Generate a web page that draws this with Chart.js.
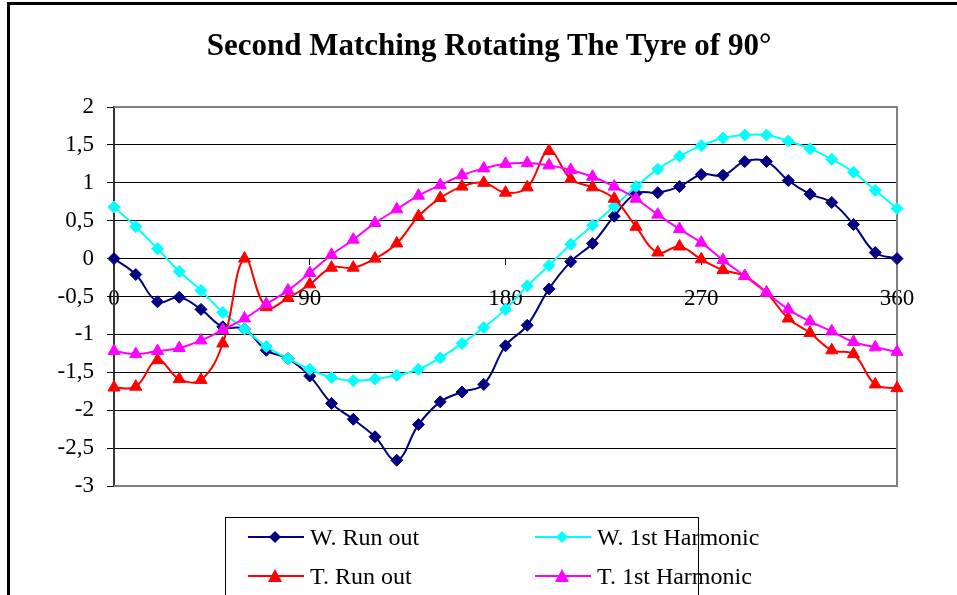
<!DOCTYPE html>
<html><head><meta charset="utf-8">
<script src="https://cdn.jsdelivr.net/npm/chart.js@4"></script>
<style>
body{margin:0;background:#fff;}
#wrap{position:relative;width:957px;height:595px;overflow:hidden;background:#fff;font-family:"Liberation Serif","Times New Roman",serif;color:#000;}
#frame{position:absolute;left:7px;top:2px;width:1000px;height:1000px;border-left:3px solid #000;border-top:3px solid #000;}
#title{position:absolute;left:0;width:978px;top:25px;text-align:center;font-weight:bold;font-size:31px;line-height:40px;}
#legend{position:absolute;left:225px;top:517px;width:472px;height:120px;border:1px solid #000;background:#fff;}
.item{position:absolute;height:30px;display:flex;align-items:center;font-size:24px;white-space:nowrap;}
.item svg{margin-right:6px;}
canvas{position:absolute;left:0;top:0;}
</style></head>
<body>
<div id="wrap">
<canvas id="c" width="957" height="595"></canvas>
<div id="frame"></div>
<div id="title">Second Matching Rotating The Tyre of 90°</div>
<div id="legend"></div>
</div>
<script>
const angles = [0,10,20,30,40,50,60,70,80,90,100,110,120,130,140,150,160,170,180,190,200,210,220,230,240,250,260,270,280,290,300,310,320,330,340,350,360];
const seriesNames = ["W. Run out","W. 1st Harmonic","T. Run out","T. 1st Harmonic"];
const wRunOut = [0,-0.21,-0.57,-0.51,-0.67,-0.90,-0.93,-1.21,-1.32,-1.55,-1.91,-2.12,-2.35,-2.66,-2.19,-1.89,-1.76,-1.66,-1.15,-0.88,-0.40,-0.04,0.20,0.56,0.86,0.87,0.95,1.11,1.10,1.28,1.28,1.03,0.85,0.74,0.45,0.08,0.0];
const wHarmonic = [0.68,0.42,0.13,-0.17,-0.42,-0.71,-0.93,-1.16,-1.32,-1.46,-1.57,-1.61,-1.59,-1.54,-1.46,-1.31,-1.12,-0.91,-0.67,-0.36,-0.09,0.19,0.44,0.69,0.95,1.18,1.35,1.49,1.59,1.63,1.63,1.55,1.45,1.31,1.14,0.90,0.66];
const tRunOut = [-1.70,-1.69,-1.34,-1.59,-1.60,-1.12,0.0,-0.64,-0.52,-0.34,-0.12,-0.12,0.0,0.20,0.56,0.80,0.95,1.00,0.87,0.94,1.42,1.05,0.94,0.79,0.42,0.08,0.16,-0.01,-0.15,-0.23,-0.45,-0.79,-0.98,-1.21,-1.26,-1.66,-1.71];
const tHarmonic = [-1.22,-1.26,-1.22,-1.18,-1.08,-0.94,-0.79,-0.60,-0.42,-0.19,0.05,0.25,0.47,0.65,0.83,0.97,1.10,1.19,1.25,1.26,1.23,1.17,1.08,0.95,0.79,0.58,0.39,0.21,-0.02,-0.23,-0.45,-0.67,-0.83,-0.96,-1.10,-1.17,-1.23];
const xTickValues = [0,90,180,270,360];
const yTickValues = [-3,-2.5,-2,-1.5,-1,-0.5,0,0.5,1,1.5,2];

const colors = ["#000080","#00FFFF","#FF0000","#FF00FF"];
const styles = ["rectRot","rectRot","triangle","triangle"];
const allValues = [wRunOut,wHarmonic,tRunOut,tHarmonic];
const toXY = vals => vals.map((v,i)=>({x:angles[i],y:v}));

const datasets = allValues.map((vals,i)=>({
  label: seriesNames[i],
  data: toXY(vals),
  borderColor: colors[i],
  backgroundColor: colors[i],
  pointBackgroundColor: colors[i],
  pointBorderColor: colors[i],
  pointStyle: styles[i],
  pointRadius: styles[i]==="triangle"?7:6,
  pointBorderWidth: 1,
  borderWidth: 2,
  tension: 0.4,
  clip: false,
  order: 4-i
}));

const plotBorder = {
  id:'plotBorder',
  beforeDatasetsDraw(chart){
    const {ctx, chartArea:a} = chart;
    ctx.save();
    ctx.strokeStyle = '#808080';
    ctx.lineWidth = 2;
    ctx.beginPath();
    ctx.moveTo(a.left, a.top);
    ctx.lineTo(a.right, a.top);
    ctx.lineTo(a.right, a.bottom);
    ctx.lineTo(a.left, a.bottom);
    ctx.stroke();
    ctx.restore();
  }
};

const font = {family:'"Liberation Serif","Times New Roman",serif', size:23};

new Chart(document.getElementById('c'), {
  type:'line',
  data:{datasets},
  options:{
    responsive:false,
    animation:false,
    events:[],
    layout:{padding:{left:8, top:107, right:60, bottom:109}},
    plugins:{legend:{display:false}, title:{display:false}, tooltip:{enabled:false}},
    scales:{
      x:{
        type:'linear', min:0, max:360,
        position:{y:0},
        afterBuildTicks(s){ s.ticks = xTickValues.map(v=>({value:v})); },
        ticks:{autoSkip:false, maxRotation:0, color:'#000', font, padding:21},
        grid:{drawOnChartArea:false, drawTicks:true, tickLength:6, tickColor:'#000', tickWidth:1},
        border:{display:true, color:'#000', width:1}
      },
      y:{
        type:'linear', min:-3, max:2,
        afterBuildTicks(s){ s.ticks = yTickValues.map(v=>({value:v})); },
        afterFit(s){ s.width = 106; },
        ticks:{color:'#000', font, padding:13, callback:v=>String(v).replace('.',',')},
        grid:{color:'#000', lineWidth:1, tickLength:7, tickColor:'#000'},
        border:{display:true, color:'#333', width:2}
      }
    }
  },
  plugins:[plotBorder]
});

// HTML legend
const legend = document.getElementById('legend');
const pos = [[22,4],[309,4],[22,43],[309,43]];
seriesNames.forEach((name,i)=>{
  const d = document.createElement('div');
  d.className='item';
  d.style.left = pos[i][0]+'px';
  d.style.top = pos[i][1]+'px';
  const c = colors[i];
  const marker = styles[i]==='rectRot'
    ? `<polygon points="27,9 33,15 27,21 21,15" fill="${c}"/>`
    : `<polygon points="27,8 34,21 20,21" fill="${c}"/>`;
  d.innerHTML = `<svg width="56" height="30"><line x1="0" y1="15" x2="56" y2="15" stroke="${c}" stroke-width="2"/>${marker}</svg><span>${name}</span>`;
  legend.appendChild(d);
});
</script>
</body></html>
